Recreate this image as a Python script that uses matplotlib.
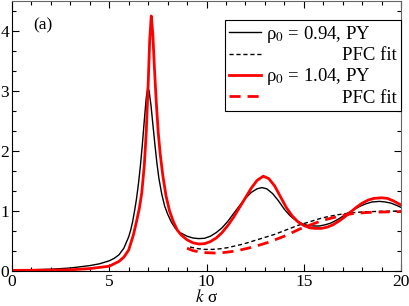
import matplotlib
matplotlib.use('Agg')
import matplotlib.pyplot as plt
from matplotlib.ticker import MultipleLocator

plt.rcParams['font.family'] = ['Liberation Serif', 'DejaVu Serif']
plt.rcParams['mathtext.fontset'] = 'stix'

# S(k)
k_py94 = [0, 1, 2, 3, 4, 4.5, 5.0, 5.25, 5.5, 5.75, 6.0, 6.1, 6.2, 6.3, 6.4, 6.5,
          6.6, 6.7, 6.8, 6.9, 6.98, 7.05, 7.15, 7.25, 7.35, 7.45, 7.55, 7.7, 7.85,
          8.0, 8.2, 8.4, 8.64, 9.0, 9.3, 9.6, 9.9, 10.2, 10.5, 10.8, 11.1, 11.4,
          11.7, 12.0, 12.3, 12.6, 12.85, 13.1, 13.4, 13.7, 14.0, 14.3, 14.6, 14.9,
          15.2, 15.5, 15.8, 16.1, 16.4, 16.7, 17.0, 17.3, 17.6, 17.9, 18.2, 18.5,
          18.9, 19.2, 19.5, 19.8, 20.0]
s_py94 = [0.02, 0.02, 0.03, 0.05, 0.09, 0.12, 0.17, 0.21, 0.27, 0.38, 0.57, 0.68,
          0.82, 1.0, 1.2, 1.45, 1.75, 2.1, 2.5, 2.88, 3.06, 3.0, 2.75, 2.42, 2.1,
          1.8, 1.55, 1.28, 1.08, 0.95, 0.81, 0.71, 0.64, 0.58, 0.55, 0.54, 0.545,
          0.58, 0.64, 0.72, 0.83, 0.96, 1.09, 1.21, 1.31, 1.37, 1.39, 1.37, 1.29,
          1.17, 1.03, 0.92, 0.84, 0.79, 0.76, 0.75, 0.75, 0.77, 0.8, 0.85, 0.91,
          0.97, 1.03, 1.08, 1.12, 1.15, 1.16, 1.15, 1.13, 1.09, 1.06]

k_py104 = [0, 2, 3, 4, 4.5, 5.0, 5.5, 5.75, 6.0, 6.24, 6.4, 6.55, 6.67, 6.8, 6.9,
           7.0, 7.08, 7.16, 7.24, 7.32, 7.42, 7.52, 7.62, 7.75, 7.92, 8.1, 8.3, 8.5,
           8.7, 9.0, 9.3, 9.6, 9.9, 10.2, 10.5, 10.8, 11.1, 11.4, 11.7, 12.0, 12.3,
           12.6, 12.92, 13.2, 13.5, 13.8, 14.1, 14.4, 14.7, 15.0, 15.3, 15.6, 15.9,
           16.2, 16.5, 16.8, 17.1, 17.4, 17.7, 18.0, 18.3, 18.6, 19.0, 19.3, 19.6,
           20.0]
s_py104 = [0.01, 0.015, 0.02, 0.04, 0.06, 0.08, 0.16, 0.23, 0.35, 0.6, 0.82, 1.05,
           1.3, 1.75, 2.3, 3.1, 3.85, 4.25, 3.95, 3.4, 2.8, 2.3, 1.95, 1.6, 1.25, 1.0,
           0.82, 0.68, 0.6, 0.52, 0.47, 0.45, 0.455, 0.49, 0.55, 0.64, 0.76, 0.9,
           1.06, 1.22, 1.38, 1.51, 1.58, 1.54, 1.42, 1.24, 1.06, 0.92, 0.82, 0.76,
           0.72, 0.71, 0.71, 0.73, 0.77, 0.83, 0.9, 0.98, 1.06, 1.13, 1.18, 1.21,
           1.22, 1.21, 1.17, 1.1]

k_pfc94 = [9.15, 9.5, 9.9, 10.3, 10.7, 11.1, 11.5, 11.9, 12.3, 12.7, 13.1, 13.5,
           13.9, 14.3, 14.7, 15.1, 15.5, 15.9, 16.3, 16.7, 17.1, 17.5, 18.0, 18.5,
           19.0, 20.0]
s_pfc94 = [0.40, 0.375, 0.36, 0.36, 0.37, 0.39, 0.42, 0.45, 0.49, 0.53, 0.57, 0.61,
           0.66, 0.71, 0.76, 0.8, 0.84, 0.88, 0.91, 0.935, 0.955, 0.97, 0.985, 0.99,
           0.995, 1.0]

k_pfc104 = [9.0, 9.3, 9.6, 10.0, 10.4, 10.8, 11.2, 11.6, 12.0, 12.4, 12.8, 13.2,
            13.6, 14.0, 14.4, 14.8, 15.2, 15.6, 16.0, 16.4, 16.8, 17.2, 17.6, 18.0,
            18.6, 19.3, 20.0]
s_pfc104 = [0.38, 0.34, 0.32, 0.305, 0.30, 0.305, 0.32, 0.34, 0.37, 0.40, 0.44,
            0.48, 0.53, 0.58, 0.64, 0.7, 0.75, 0.8, 0.845, 0.88, 0.91, 0.94, 0.96,
            0.97, 0.98, 0.985, 0.99]

fig = plt.figure(figsize=(4.09, 3.06), dpi=100)
ax = fig.add_axes([12 / 409, 35 / 306, 389 / 409, 270 / 306])

pad = ' ' * 16
ax.plot(k_py94, s_py94, color='black', lw=1.0, label=r'ρ$_0$ = 0.94, PY')
ax.plot(k_pfc94, s_pfc94, color='black', lw=1.0, ls=(0, (3, 2)),
        label=pad + 'PFC fit')
ax.plot(k_py104, s_py104, color='red', lw=2.0, label=r'ρ$_0$ = 1.04, PY')
ax.plot(k_pfc104, s_pfc104, color='red', lw=2.0, ls=(0, (4, 2.5)),
        label=pad + 'PFC fit')

ax.set_xlim(0, 20)
ax.set_ylim(0, 4.5)
ax.xaxis.set_major_locator(MultipleLocator(5))
ax.xaxis.set_minor_locator(MultipleLocator(1))
ax.yaxis.set_major_locator(MultipleLocator(1))
ax.yaxis.set_minor_locator(MultipleLocator(1 / 3))
ax.tick_params(which='both', direction='in', top=True, right=True,
               labelsize=12.5, pad=2)
ax.tick_params(which='major', length=5, width=0.8)
ax.tick_params(which='minor', length=3, width=0.8)
for s in ['top', 'right']:
    ax.spines[s].set_color('#666666')

ax.set_xlabel(r'$k$ σ', fontsize=12.5, labelpad=-0.5)
ax.text(1.1, 4.1, '(a)', fontsize=12.5, va='center')

leg = ax.legend(loc='upper right', bbox_to_anchor=(401 / 409, 286 / 306),
                bbox_transform=fig.transFigure, fontsize=13.5, frameon=True,
                fancybox=False, edgecolor='black', framealpha=1,
                handlelength=1.7, handletextpad=0.3, labelspacing=0.12,
                borderpad=0.2, borderaxespad=0)
leg.get_frame().set_linewidth(0.8)

fig.savefig('out.png', dpi=100)
